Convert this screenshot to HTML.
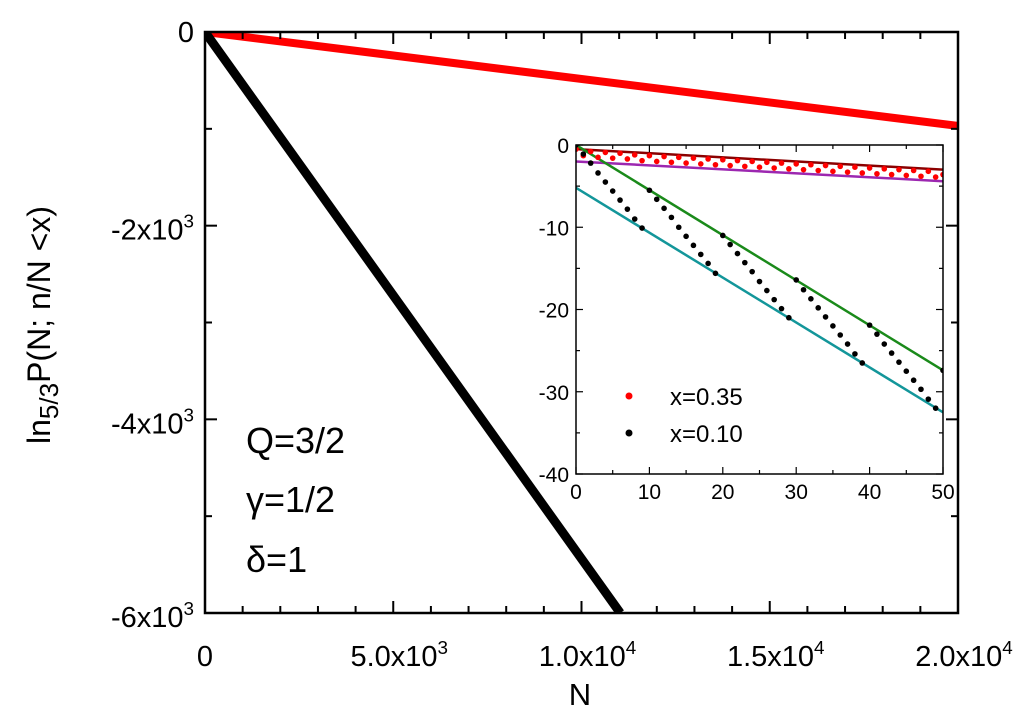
<!DOCTYPE html>
<html><head><meta charset="utf-8"><style>
body{margin:0;background:#fff;width:1024px;height:717px;overflow:hidden}
svg{display:block;font-family:"Liberation Sans",sans-serif}
</style></head><body>
<svg id="chart" width="1024" height="717">
<defs>
<clipPath id="mainclip"><rect x="205" y="32" width="753" height="581"/></clipPath>
<clipPath id="insclip"><rect x="576" y="145" width="367" height="329"/></clipPath>
</defs>
<g id="main"></g>
<g id="inset"></g>
</svg>
<script>
// main chart data
const mainN = [0, 20000];
const mainRed = [0, -970];
const mainBlackN = [0, 11030];
const mainBlack = [0, -6000];
const mainXTicks = [0, 5000, 10000, 15000, 20000];
const mainXLabels = ["0", "5.0x10|3", "1.0x10|4", "1.5x10|4", "2.0x10|4"];
const mainYTicks = [0, -2000, -4000, -6000];
const mainYLabels = ["0", "-2x10|3", "-4x10|3", "-6x10|3"];
// inset data
const insN = [0, 50];
const brownLine = [-0.5, -3.0];
const purpleLine = [-2.0, -4.4];
const greenLine = [0, -27.4];
const tealLine = [-5.2, -32.5];
const redDots = [-0.5,-1.3,-0.8,-1.5,-0.9,-1.6,-1.0,-1.7,-1.2,-1.9,-1.3,-2.0,-1.4,-2.1,-1.5,-2.2,-1.6,-2.3,-1.7,-2.4,-1.8,-2.5,-1.9,-2.6,-2.0,-2.7,-2.1,-2.8,-2.2,-2.9,-2.3,-3.0,-2.4,-3.1,-2.5,-3.2,-2.6,-3.3,-2.7,-3.4,-2.8,-3.5,-2.9,-3.6,-3.0,-3.7,-3.1,-3.8,-3.2,-3.9,-3.6];
const blackDots = [0,-1.1,-2.2,-3.4,-4.5,-5.6,-6.7,-7.8,-9.0,-10.1,
 -5.5,-6.6,-7.7,-8.8,-10.0,-11.1,-12.2,-13.3,-14.4,-15.6,
 -11.0,-12.1,-13.2,-14.3,-15.4,-16.6,-17.7,-18.8,-19.9,-21.0,
 -16.4,-17.6,-18.7,-19.8,-20.9,-22.0,-23.1,-24.2,-25.4,-26.5,
 -21.9,-23.0,-24.2,-25.3,-26.4,-27.5,-28.6,-29.7,-30.9,-32.0,-27.4];
const insXTicks = [0,10,20,30,40,50];
const insYTicks = [0,-10,-20,-30,-40];

const NS="http://www.w3.org/2000/svg";
function mk(p,t,a){const e=document.createElementNS(NS,t);for(const k in a)e.setAttribute(k,a[k]);p.appendChild(e);return e;}
const main=document.getElementById('main'), ins=document.getElementById('inset');
const X=v=>205+v/20000*753, Y=v=>32+(-v)/6000*581;
const x2=v=>576+v/50*367, y2=v=>145+(-v)/40*329;

let g=mk(main,'g',{'clip-path':'url(#mainclip)'});
let l=mk(g,'line',{x1:X(mainN[0]),y1:Y(mainRed[0]),x2:X(mainN[1]),y2:Y(mainRed[1]),stroke:'#ff0000','stroke-width':8});


l=mk(g,'line',{x1:X(mainBlackN[0]),y1:Y(mainBlack[0]),x2:X(mainBlackN[1]),y2:Y(mainBlack[1]),stroke:'#000','stroke-width':9});


let f=mk(main,'rect',{x:205,y:32,width:753,height:581,fill:'none',stroke:'#000','stroke-width':2.5});


for(let v=0;v<=20000;v+=1000){const len=v%5000===0?12:7;
 mk(main,'line',{x1:X(v),x2:X(v),y1:613,y2:613-len,stroke:'#000','stroke-width':2});
 mk(main,'line',{x1:X(v),x2:X(v),y1:32,y2:32+len,stroke:'#000','stroke-width':2});}
for(let v=0;v>=-6000;v-=1000){const len=v%2000===0?12:7;
 mk(main,'line',{x1:205,x2:205+len,y1:Y(v),y2:Y(v),stroke:'#000','stroke-width':2});
 mk(main,'line',{x1:958,x2:958-len,y1:Y(v),y2:Y(v),stroke:'#000','stroke-width':2});}
function lab(p,x,y,s,anchor,fs,name){const t=mk(p,'text',{x:x,y:y,'text-anchor':anchor,'font-size':fs});
 const parts=s.split('|');t.appendChild(document.createTextNode(parts[0]));
 if(parts[1]){const ts=mk(t,'tspan',{dy:-12,'font-size':fs*0.65});ts.textContent=parts[1];}
 return t;}
mainXTicks.forEach((v,i)=>lab(main,X(v)+(i?6:0),666,mainXLabels[i],'middle',29,'x-tick-label'));
mainYTicks.forEach((v,i)=>lab(main,i?194:194,Y(v)+(i?14:10),mainYLabels[i],'end',29,'y-tick-label'));
let t=mk(main,'text',{x:580,y:705,'text-anchor':'middle','font-size':31});t.textContent='N';

t=mk(main,'text',{x:0,y:0,'text-anchor':'middle','font-size':32,transform:'translate(50,325) rotate(-90)'});
t.innerHTML='ln<tspan font-size="26" dy="8">5/3</tspan><tspan dy="-8">P(N; n/N &lt;x)</tspan>';

[['Q=3/2',453],['γ=1/2',512],['δ=1',572]].forEach(([s,y])=>{const e=mk(main,'text',{x:246,y:y,'font-size':36});e.textContent=s;
 });

mk(ins,'rect',{x:576,y:145,width:367,height:329,fill:'#fff'});
let ig=mk(ins,'g',{'clip-path':'url(#insclip)'});
[[brownLine,'#8b0000','brown-fit-line'],[purpleLine,'#9c27b0','purple-fit-line'],[greenLine,'#1a8a1a','green-fit-line'],[tealLine,'#13969a','teal-fit-line']].forEach(([d,c,n])=>{
 const e=mk(ig,'line',{x1:x2(insN[0]),y1:y2(d[0]),x2:x2(insN[1]),y2:y2(d[1]),stroke:c,'stroke-width':2.5});
 });
redDots.forEach((v,i)=>{const c=mk(ig,'circle',{cx:x2(i),cy:y2(v),r:2.8,fill:'#ff0000'});
 });
blackDots.forEach((v,i)=>{const c=mk(ig,'circle',{cx:x2(i),cy:y2(v),r:2.8,fill:'#000'});
 });
f=mk(ins,'rect',{x:576,y:145,width:367,height:329,fill:'none',stroke:'#000','stroke-width':1.5});

for(let v=0;v<=50;v+=5){const len=v%10===0?7:4;
 mk(ins,'line',{x1:x2(v),x2:x2(v),y1:474,y2:474-len,stroke:'#000','stroke-width':1.2});
 mk(ins,'line',{x1:x2(v),x2:x2(v),y1:145,y2:145+len,stroke:'#000','stroke-width':1.2});}
for(let v=0;v>=-40;v-=5){const len=v%10===0?7:4;
 mk(ins,'line',{x1:576,x2:576+len,y1:y2(v),y2:y2(v),stroke:'#000','stroke-width':1.2});
 mk(ins,'line',{x1:943,x2:943-len,y1:y2(v),y2:y2(v),stroke:'#000','stroke-width':1.2});}
insXTicks.forEach(v=>lab(ins,x2(v),499,String(v),'middle',21,'inset-x-tick-label'));
insYTicks.forEach(v=>lab(ins,569,y2(v)+8,String(v),'end',21,'inset-y-tick-label'));
[['#ff0000','x=0.35',396],['#000','x=0.10',433]].forEach(([c,s,y])=>{
 const d=mk(ins,'circle',{cx:629,cy:y,r:3.5,fill:c});
 const e=mk(ins,'text',{x:670,y:y+9,'font-size':24});e.textContent=s;});
</script>
</body></html>
